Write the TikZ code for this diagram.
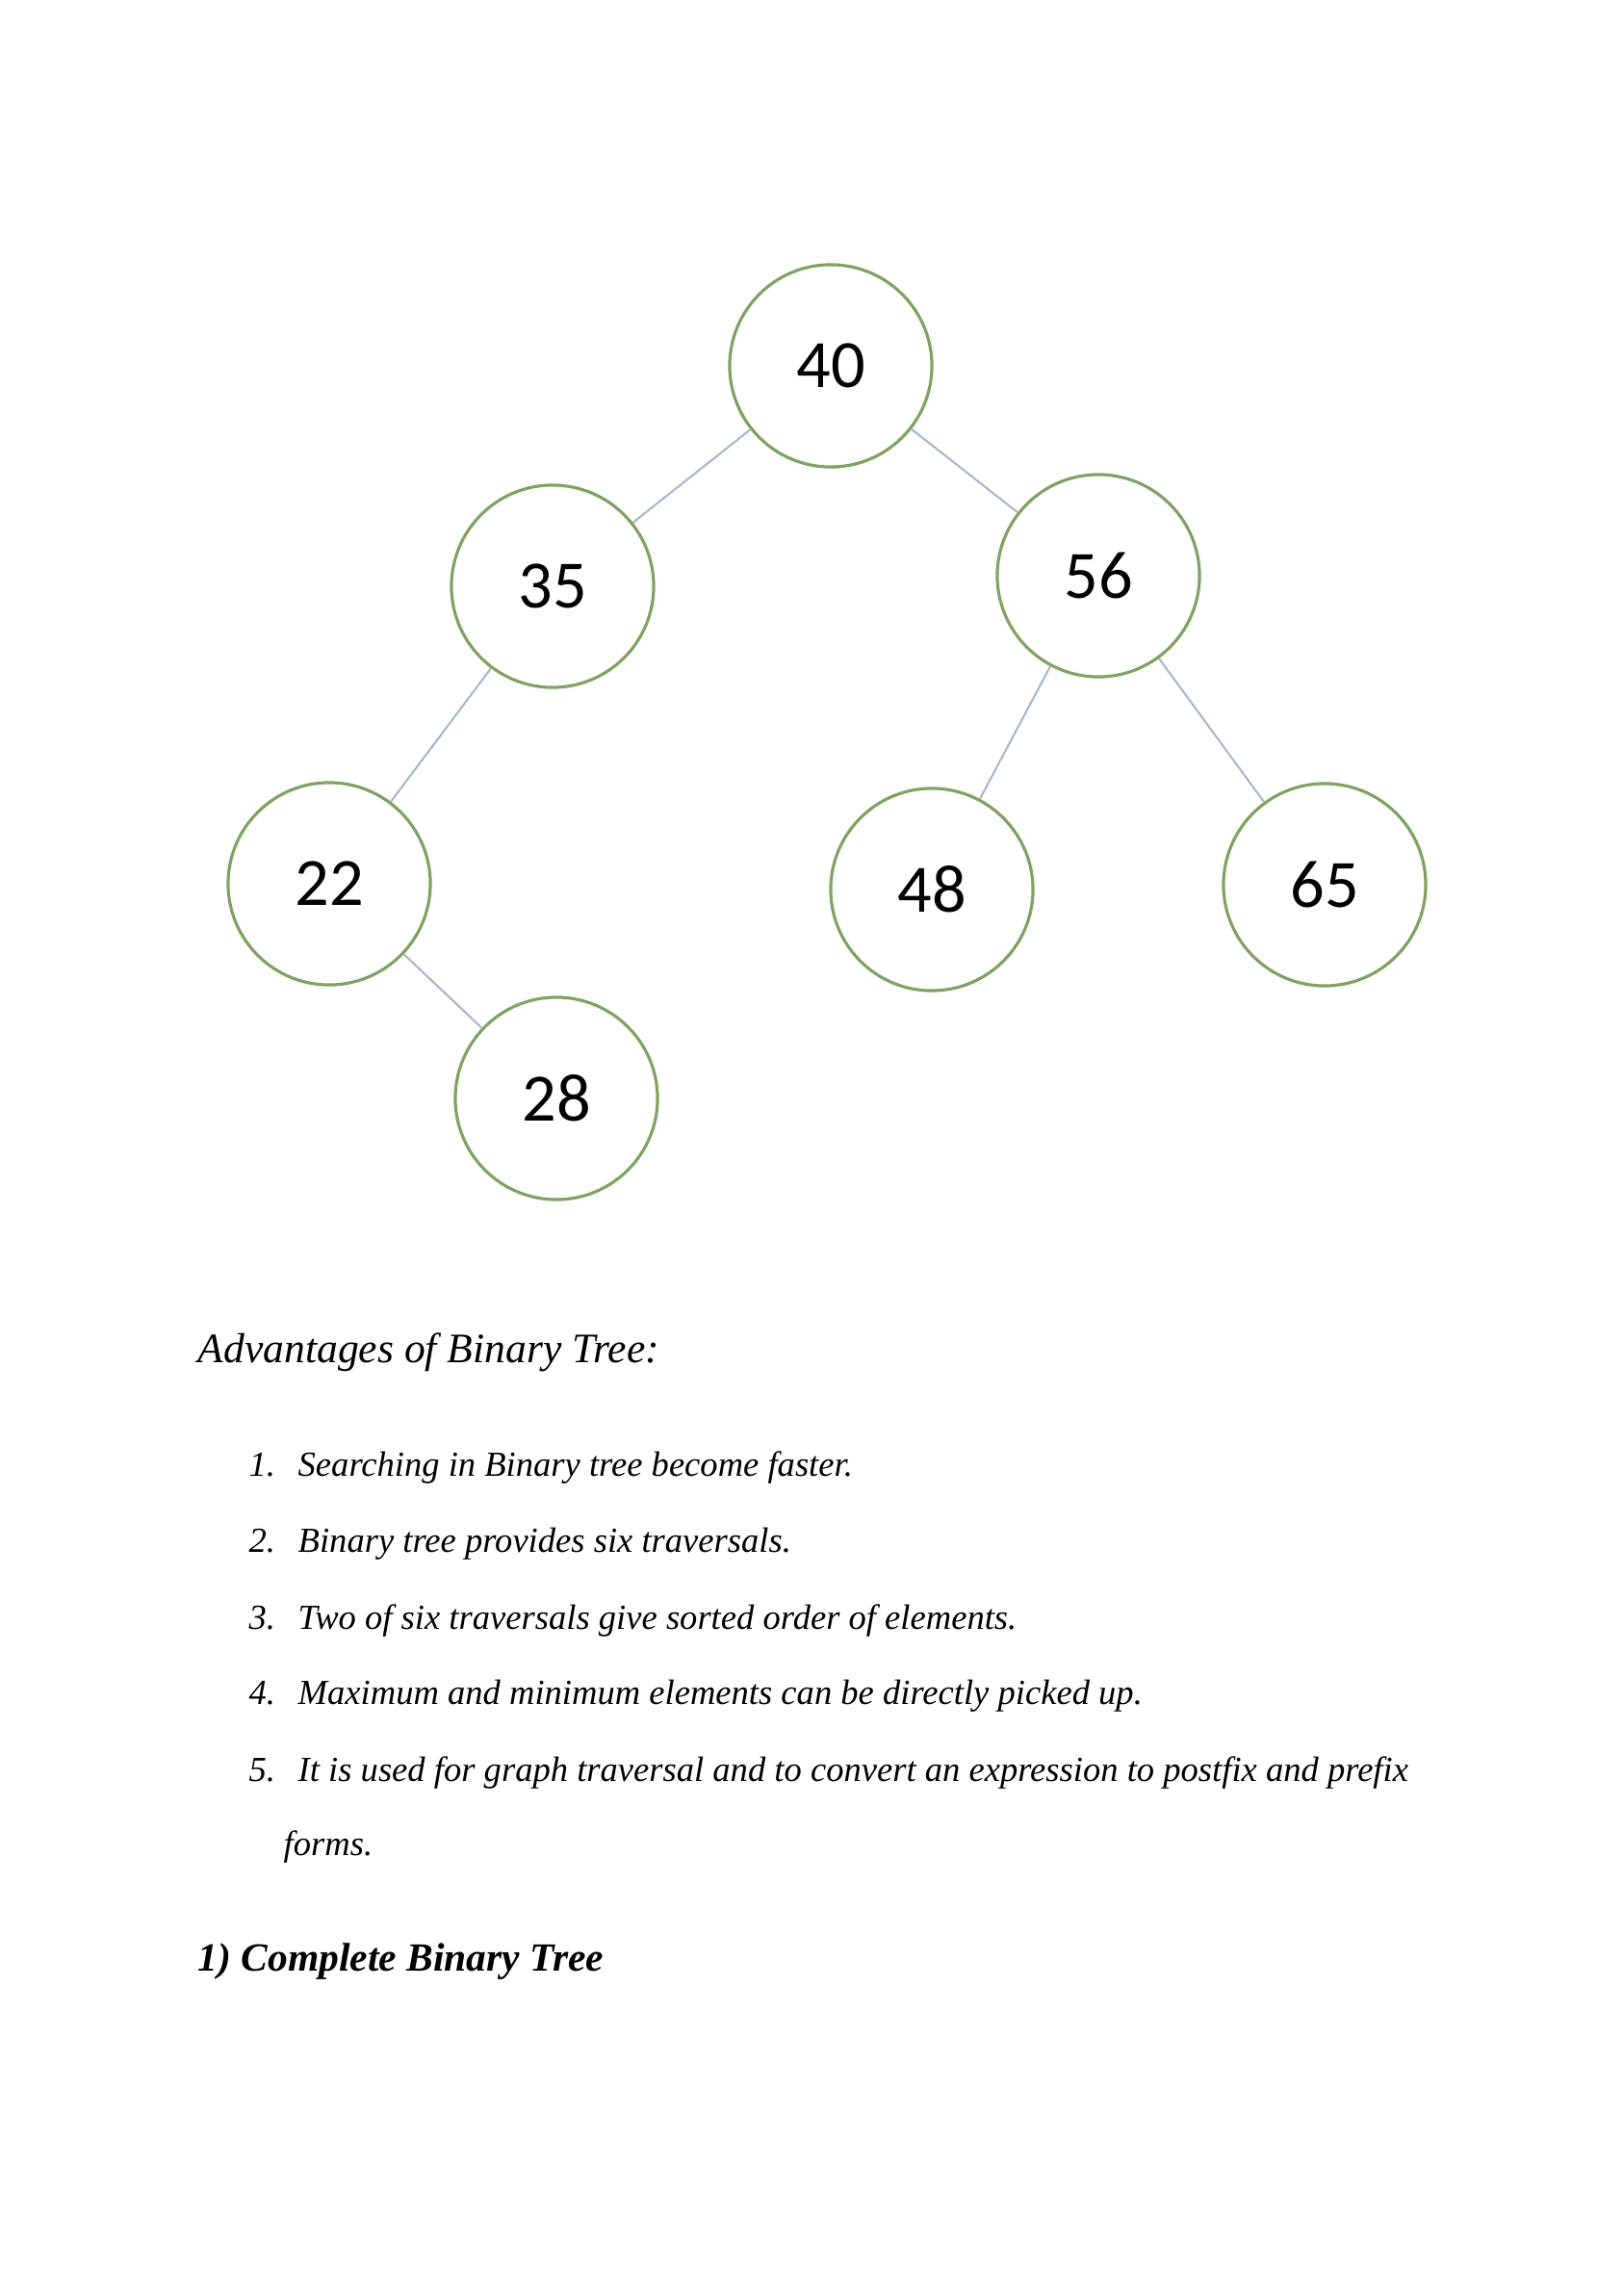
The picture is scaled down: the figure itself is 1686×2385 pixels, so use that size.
\documentclass[tikz,border=0pt]{standalone}
\usepackage{fontspec}
\setmainfont{Liberation Serif}
\newfontfamily\numfont{Carlito}
\usetikzlibrary{positioning}
\definecolor{ringgreen}{RGB}{128,162,98}
\definecolor{edgegrey}{RGB}{170,184,200}
\tikzset{
  treenode/.style={circle, draw=ringgreen, line width=0.9pt, minimum size=2.1cm, inner sep=0pt, font=\numfont\fontsize{20}{24}\selectfont},
  treeedge/.style={draw=edgegrey, line width=0.6pt},
  listtext/.style={anchor=base west, inner sep=0pt, font=\itshape\fontsize{10.4}{12}\selectfont}
}
\begin{document}
\begin{tikzpicture}[x=0.01cm, y=-0.01cm]
    % page
    \useasboundingbox (0,0) rectangle (1686,2385);
    \fill[white] (0,0) rectangle (1686,2385);

    % 1. nodes of the tree
    \node[treenode] (n40) at (863,380) {40};
    \node[treenode] (n35) at (574,609) {35};
    \node[treenode] (n56) at (1141,598) {56};
    \node[treenode] (n22) at (342,918) {22};
    \node[treenode] (n48) at (968,924) {48};
    \node[treenode] (n65) at (1376,919) {65};
    \node[treenode] (n28) at (578,1141) {28};

    % 2. edges
    \draw[treeedge] (n40) -- (n35);
    \draw[treeedge] (n40) -- (n56);
    \draw[treeedge] (n35) -- (n22);
    \draw[treeedge] (n22) -- (n28);
    \draw[treeedge] (n56) -- (n48);
    \draw[treeedge] (n56) -- (n65);

    % 3. text below
    \node[listtext, font=\itshape\fontsize{12.4}{14}\selectfont] (adv) at (205,1415) {Advantages of Binary Tree:};
    \node[listtext] (i1) at (258,1533) {1.};
    \node[listtext] (t1) at (309,1533) {Searching in Binary tree become faster.};
    \node[listtext] (i2) at (258,1612) {2.};
    \node[listtext] (t2) at (309,1612) {Binary tree provides six traversals.};
    \node[listtext] (i3) at (258,1692) {3.};
    \node[listtext] (t3) at (309,1692) {Two of six traversals give sorted order of elements.};
    \node[listtext] (i4) at (258,1770) {4.};
    \node[listtext] (t4) at (309,1770) {Maximum and minimum elements can be directly picked up.};
    \node[listtext] (i5) at (258,1850) {5.};
    \node[listtext] (t5) at (309,1850) {It is used for graph traversal and to convert an expression to postfix and prefix};
    \node[listtext] (t6) at (294,1927) {forms.};
    \node[listtext, font=\bfseries\itshape\fontsize{11.8}{14}\selectfont] (cbt) at (205,2047) {1) Complete Binary Tree};
\end{tikzpicture}
\end{document}
